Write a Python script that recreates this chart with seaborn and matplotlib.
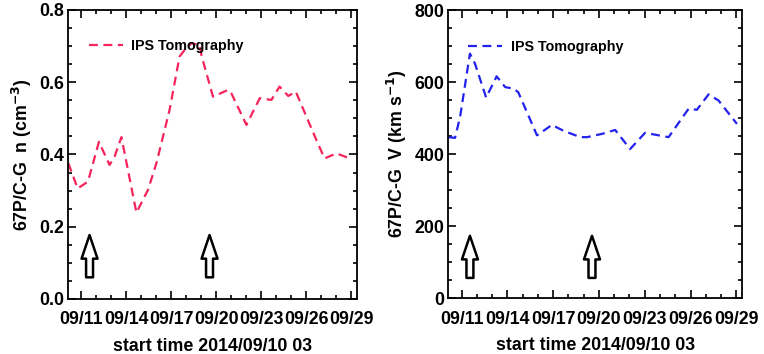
import matplotlib
matplotlib.use("Agg")
import matplotlib.pyplot as plt
import matplotlib.dates as mdates
import pandas as pd
import seaborn as sns

# IPS tomography density at 67P/C-G
density_times = ["2014-09-10 03:00", "2014-09-10 18:00", "2014-09-11 10:30", "2014-09-12 04:00",
                 "2014-09-12 21:00", "2014-09-13 05:00", "2014-09-13 16:00", "2014-09-14 16:00",
                 "2014-09-15 10:30", "2014-09-16 00:00", "2014-09-16 21:00", "2014-09-17 13:00",
                 "2014-09-17 21:00", "2014-09-18 08:00", "2014-09-18 21:00", "2014-09-19 00:00",
                 "2014-09-19 18:30", "2014-09-20 19:00", "2014-09-21 00:00", "2014-09-22 00:00",
                 "2014-09-22 21:30", "2014-09-23 16:00", "2014-09-24 05:00", "2014-09-24 19:00",
                 "2014-09-25 07:00", "2014-09-26 16:00", "2014-09-27 05:00", "2014-09-28 00:00",
                 "2014-09-28 21:30"]
density_values = [0.376, 0.306, 0.325, 0.435, 0.371, 0.394, 0.448, 0.239,
                  0.302, 0.376, 0.523, 0.671, 0.689, 0.708, 0.703, 0.675,
                  0.560, 0.579, 0.569, 0.482, 0.556, 0.551, 0.588, 0.562,
                  0.574, 0.440, 0.389, 0.403, 0.389]

# IPS tomography speed at 67P/C-G
speed_times = ["2014-09-10 03:00", "2014-09-10 13:30", "2014-09-10 21:30", "2014-09-11 13:00",
               "2014-09-11 21:00", "2014-09-12 14:30", "2014-09-13 07:00", "2014-09-13 20:30",
               "2014-09-14 09:30", "2014-09-14 17:00", "2014-09-15 22:30", "2014-09-16 22:00",
               "2014-09-17 16:00", "2014-09-18 18:30", "2014-09-19 05:00", "2014-09-20 04:30",
               "2014-09-21 01:30", "2014-09-22 01:00", "2014-09-23 00:30", "2014-09-24 13:30",
               "2014-09-25 21:00", "2014-09-26 10:00", "2014-09-27 04:30", "2014-09-27 20:00",
               "2014-09-29 01:00"]
speed_values = [447, 445, 503, 679, 651, 557, 616, 586, 582, 572, 452, 481, 465,
                447, 447, 456, 467, 414, 459, 447, 526, 523, 566, 549, 484]

arrow_times = ["2014-09-11 13:00", "2014-09-19 13:00"]
tick_dates = ["2014-09-11", "2014-09-14", "2014-09-17", "2014-09-20",
              "2014-09-23", "2014-09-26", "2014-09-29"]
tick_labels = ["09/11", "09/14", "09/17", "09/20", "09/23", "09/26", "09/29"]
x_start = "2014-09-10 03:00"
x_end = "2014-09-29 09:00"

sns.set_style("ticks")
plt.rcParams["font.family"] = ["Liberation Sans", "DejaVu Sans"]
plt.rcParams["font.weight"] = "bold"
for key in ["text.color", "axes.labelcolor", "xtick.color", "ytick.color", "axes.edgecolor"]:
    plt.rcParams[key] = "black"

density_df = pd.DataFrame({"time": pd.to_datetime(density_times), "n": density_values})
speed_df = pd.DataFrame({"time": pd.to_datetime(speed_times), "V": speed_values})

fig = plt.figure(figsize=(7.64, 3.54), dpi=100)
ax_n = fig.add_axes([0.0894, 0.1554, 0.3779, 0.8164])
ax_v = fig.add_axes([0.5868, 0.158, 0.3844, 0.8135])

dash = (0, (4, 2.5))
sns.lineplot(data=density_df, x="time", y="n", ax=ax_n, color="#f5245a",
             lw=1.6, linestyle=dash, label="IPS Tomography")
sns.lineplot(data=speed_df, x="time", y="V", ax=ax_v, color="#2222ee",
             lw=1.6, linestyle=dash, label="IPS Tomography")


def style_panel(ax, ylim, major, minor, fmt, ylabel, arrow_span, leg_anchor):
    ax.set_xlim(pd.Timestamp(x_start), pd.Timestamp(x_end))
    ax.set_ylim(*ylim)
    ax.set_xticks(pd.to_datetime(tick_dates))
    ax.set_xticklabels(tick_labels)
    ax.xaxis.set_minor_locator(mdates.DayLocator())
    ax.yaxis.set_major_locator(plt.MultipleLocator(major))
    ax.yaxis.set_minor_locator(plt.MultipleLocator(minor))
    ax.yaxis.set_major_formatter(plt.FormatStrFormatter(fmt))
    ax.tick_params(which="both", direction="in", top=True, right=True, width=1.2,
                   color="black", labelcolor="black")
    ax.tick_params(which="major", length=5.5, labelsize=12.8, pad=3)
    ax.tick_params(axis="x", which="major", pad=9)
    ax.tick_params(which="minor", length=3)
    for s in ax.spines.values():
        s.set_visible(True)
        s.set_linewidth(1.3)
        s.set_color("black")
    ax.set_xlabel("start time 2014/09/10 03", fontsize=12.8, fontweight="bold", labelpad=7)
    ax.set_ylabel(ylabel, fontsize=12.8, fontweight="bold", labelpad=4)
    ax.legend(loc="center left", bbox_to_anchor=leg_anchor, frameon=False,
              handlelength=2.4, handletextpad=0.6, borderpad=0, borderaxespad=0,
              prop={"size": 10.3, "weight": "bold"}, labelcolor="black")
    for t in arrow_times:
        ax.annotate("", xy=(pd.Timestamp(t), arrow_span[1]), xytext=(pd.Timestamp(t), arrow_span[0]),
                    arrowprops=dict(arrowstyle="simple,head_length=1.7,head_width=1.15,tail_width=0.5",
                                    fc="white", ec="black", lw=1.8, shrinkA=0, shrinkB=0,
                                    mutation_scale=10))


style_panel(ax_n, (0, 0.8), 0.2, 0.05, "%.1f", "67P/C-G  n (cm$^{\\mathbf{-3}}$)",
            (0.06, 0.177), (0.07, 0.875))
style_panel(ax_v, (0, 800), 200, 50, "%d", "67P/C-G  V (km s$^{\\mathbf{-1}}$)",
            (56, 173), (0.066, 0.872))

fig.savefig("out.png", dpi=100)
